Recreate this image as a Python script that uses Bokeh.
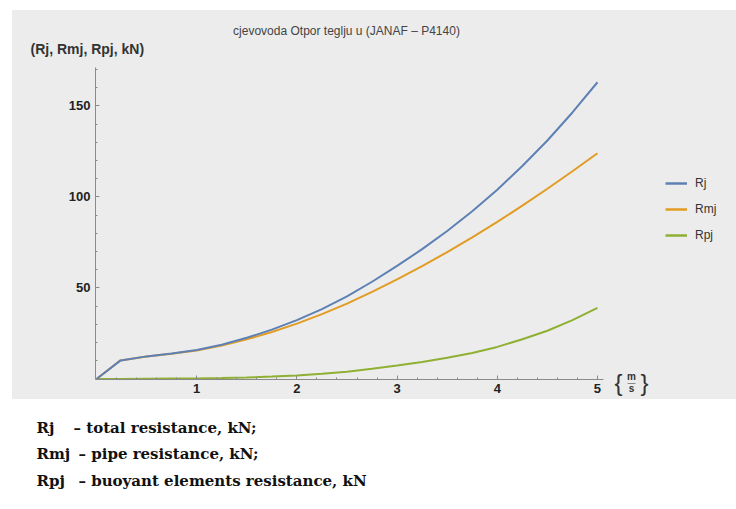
from bokeh.plotting import figure
from bokeh.models import Range1d, FixedTicker, Label, Legend, LegendItem, ColumnDataSource
from bokeh.layouts import column, row
from bokeh.embed import file_html
from bokeh.resources import INLINE

# ---------------- data ----------------
speed = [0.0, 0.24, 0.5, 0.75, 1.0, 1.25, 1.5, 1.75, 2.0, 2.25, 2.5, 2.75,
         3.0, 3.25, 3.5, 3.75, 4.0, 4.25, 4.5, 4.75, 5.0]                       # m/s
rmj = [0.0, 10.2, 12.3, 13.8, 15.6, 18.3, 21.8, 25.8, 30.4, 35.6, 41.4, 47.8,
       54.7, 62.0, 69.7, 77.8, 86.3, 95.2, 104.5, 114.1, 124.0]                 # pipe, kN
rpj = [0.0, 0.0, 0.1, 0.2, 0.3, 0.5, 0.8, 1.3, 1.9, 2.8, 4.0, 5.6,
       7.4, 9.3, 11.6, 14.3, 17.6, 21.8, 26.5, 32.3, 39.0]                      # buoyant, kN
rj = [0.0, 10.2, 12.4, 14.0, 15.9, 18.8, 22.6, 27.1, 32.3, 38.4, 45.4, 53.4,
      62.1, 71.3, 81.3, 92.1, 103.9, 117.0, 131.0, 146.4, 163.0]               # total, kN
series_names = ["Rj", "Rmj", "Rpj"]
x_ticks = [1, 2, 3, 4, 5]
y_ticks = [50, 100, 150]
title_text = "cjevovoda Otpor teglju u (JANAF \u2013 P4140)"
y_label_text = "(Rj, Rmj, Rpj, kN)"
note_symbols = ["Rj", "Rmj", "Rpj"]
note_texts = ["\u2013 total resistance, kN;", "\u2013 pipe resistance, kN;",
              "\u2013 buoyant elements resistance, kN"]

# ---------------- styling ----------------
COLORS = ["#5e81b5", "#e19c24", "#8fb032"]
BG = "#ececec"
AX = "#8a8a8a"
TXT = "#333333"
SANS = "Liberation Sans"
SERIF = "DejaVu Serif"
NAN = float("nan")


def blank(width, height, x_lo, x_hi, y_top, y_bot, bg, margin=(0, 0, 0, 0)):
    f = figure(width=width, height=height, x_range=Range1d(x_lo, x_hi),
               y_range=Range1d(y_bot, y_top), output_backend="svg",
               toolbar_location=None, min_border=0, background_fill_color=bg,
               border_fill_color=bg, outline_line_color=None, margin=margin,
               frame_align=False)
    f.axis.visible = False
    f.grid.visible = False
    return f


# ---------------- top strip: title and y label (page px coords) ----------------
top = blank(724, 57, 12, 736, 10, 67, BG)
top.add_layout(Label(x=346, y=30, text=title_text, text_font=SANS,
                     text_font_size="12px", text_color="#444444",
                     text_align="center", text_baseline="middle"))
top.add_layout(Label(x=30, y=48, text=y_label_text, text_font=SANS,
                     text_font_size="14px", text_font_style="bold", text_color=TXT,
                     text_align="left", text_baseline="middle"))

# ---------------- main plot ----------------
p = figure(width=595, height=332, x_range=Range1d(-0.01, 5.06),
           y_range=Range1d(-0.3, 171.1), output_backend="svg", toolbar_location=None,
           min_border_left=83, min_border_right=4, min_border_top=0, min_border_bottom=20,
           background_fill_color=BG, border_fill_color=BG, outline_line_color=None,
           frame_align=False)
p.grid.visible = False

src = ColumnDataSource(dict(speed=speed, rj=rj, rmj=rmj, rpj=rpj))
for col, c in zip(["rpj", "rmj", "rj"], COLORS[::-1]):
    p.line("speed", col, source=src, line_color=c, line_width=2)

for ax in (p.xaxis, p.yaxis):
    ax.axis_line_color = AX
    ax.major_tick_line_color = AX
    ax.minor_tick_line_color = AX
    ax.major_tick_in = 4
    ax.major_tick_out = 0
    ax.minor_tick_in = 2
    ax.minor_tick_out = 0
    ax.major_label_text_font = SANS
    ax.major_label_text_font_size = "13px"
    ax.major_label_text_font_style = "bold"
    ax.major_label_text_color = "#222222"
p.xaxis.ticker = FixedTicker(ticks=x_ticks, minor_ticks=[i * 0.2 for i in range(1, 26)])
p.yaxis.ticker = FixedTicker(ticks=y_ticks, minor_ticks=[i * 10 for i in range(1, 18)])
p.xaxis.major_label_standoff = 4
p.yaxis.major_label_standoff = 5

# ---------------- side panel: legend and unit (page px coords) ----------------
side = blank(129, 332, 607, 736, 67, 399, BG)
proxies = [side.line(x=[NAN, NAN], y=[NAN, NAN], line_color=c, line_width=2.5)
           for c in COLORS]
legend = Legend(items=[LegendItem(label=n, renderers=[r]) for n, r in zip(series_names, proxies)],
                location=(58, 154), margin=0, padding=0,
                border_line_color=None, background_fill_alpha=0,
                glyph_width=22, glyph_height=20, label_height=20, spacing=6,
                label_standoff=8, label_text_font=SANS, label_text_font_size="12px",
                label_text_color=TXT)
side.add_layout(legend)
for tx, xx, yy, fs, st in [("{", 618, 382, "24px", "normal"), ("}", 644, 382, "24px", "normal"),
                           ("m", 631, 376, "10px", "bold"), ("\u2014", 631, 382, "8px", "normal"),
                           ("s", 631, 388, "10px", "bold")]:
    side.add_layout(Label(x=xx, y=yy, text=tx, text_font=SANS, text_font_size=fs,
                          text_font_style=st, text_color=TXT, text_align="center",
                          text_baseline="middle"))

# ---------------- notes below the panel (page px coords) ----------------
notes = blank(720, 100, 0, 720, 399, 499, "white")
row_y = [427, 453, 480]
desc_x = [73, 78, 78]
for sym, txt, yy, xx in zip(note_symbols, note_texts, row_y, desc_x):
    for tt, tx in [(sym, 36), (txt, xx)]:
        notes.add_layout(Label(x=tx, y=yy, text=tt, text_font=SERIF,
                               text_font_size="15px", text_font_style="bold",
                               text_color="#111111", text_baseline="middle"))

panel = column(top, row(p, side, spacing=0, styles={"background-color": BG}),
               spacing=0, margin=(10, 0, 0, 12), styles={"background-color": BG})
layout = column(panel, notes, spacing=0)
open("out.html", "w").write(file_html(layout, INLINE))
